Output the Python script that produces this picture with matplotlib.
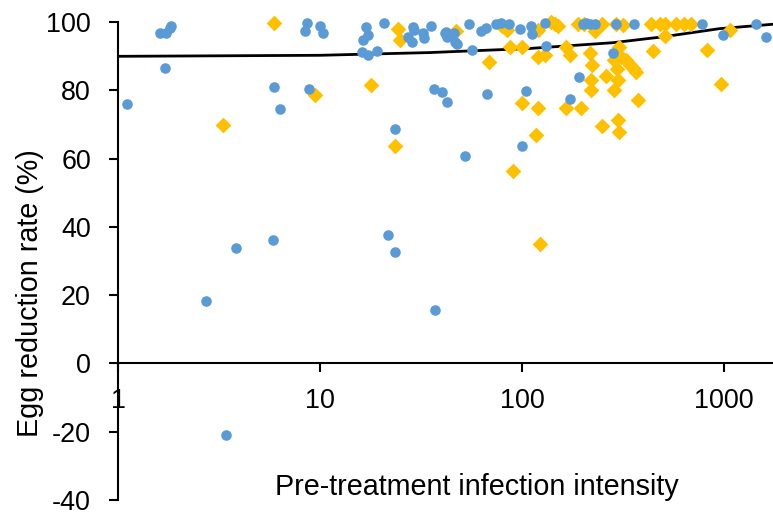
import matplotlib.pyplot as plt
from matplotlib.ticker import FixedLocator, NullLocator

plt.rcParams['font.family'] = ['Liberation Sans', 'DejaVu Sans']
plt.rcParams['axes.unicode_minus'] = False

# blue circles
blue_x = [1.11, 1.61, 1.72, 1.81, 1.82, 1.71, 5.95, 6.37, 8.6, 8.44,
          10.0, 10.3, 8.8, 16.8, 17.2, 16.3, 16.1, 17.2, 19.2, 20.8,
          23.6, 29.0, 29.2, 27.4, 28.5, 32.3, 32.9, 35.4, 36.5, 40.0,
          2.73, 3.83, 5.88, 21.6, 23.6, 37.2, 3.44, 41.7, 42.5, 42.1,
          46.0, 46.6, 47.8, 54.6, 56.3, 63.0, 66.7, 74.8, 78.3, 86.0,
          97.8, 110.5, 111.7, 130, 131.6, 201, 208.5, 216.6, 231, 292,
          358, 281, 192, 173, 42.7, 67.2, 104.5, 100.4, 52.3, 780,
          986, 1440, 1610]
blue_y = [76.1, 96.7, 96.7, 98.2, 98.9, 86.5, 80.9, 74.6, 99.8, 97.4,
          98.8, 96.9, 80.3, 98.5, 96.3, 94.7, 91.3, 90.4, 91.7, 99.9,
          68.7, 98.6, 97.7, 95.7, 94.2, 96.7, 95.5, 98.8, 80.3, 79.6,
          18.2, 33.9, 36.1, 37.7, 32.8, 15.7, -21.0, 96.7, 95.7, 97.2,
          96.7, 94.2, 93.5, 99.4, 91.8, 97.5, 98.4, 99.6, 99.8, 99.4,
          97.9, 99.0, 96.4, 99.8, 93.0, 99.6, 99.8, 99.6, 99.6, 99.4,
          99.6, 90.9, 84.0, 77.4, 76.5, 78.9, 79.9, 63.8, 60.9, 99.4,
          96.2, 99.4, 95.8]

# orange diamonds
orange_x = [5.92, 3.31, 9.5, 17.9, 24.2, 24.9, 23.6, 47.2, 68.6, 80.0,
            84.4, 87.0, 100.6, 100.0, 120, 116.8, 90.4, 120.4, 120.4, 130,
            140, 145.6, 151, 166, 172, 165, 195, 190, 204, 230,
            250, 217, 222, 219, 220, 248, 260, 292, 317, 303,
            287, 299, 297, 299, 301, 284, 311, 329, 342, 355,
            369, 376, 435, 483, 511, 580, 637, 688, 511, 447,
            820, 1070, 968, 123]
orange_y = [99.9, 69.9, 78.8, 81.5, 98.0, 94.7, 63.7, 97.5, 88.4, 98.8,
            97.8, 92.8, 92.8, 76.2, 75.0, 67.0, 56.5, 97.8, 89.9, 90.4,
            100.0, 99.4, 98.8, 92.8, 90.4, 74.8, 75.0, 99.6, 99.4, 97.5,
            99.4, 90.9, 87.4, 83.0, 80.1, 69.7, 84.2, 99.6, 99.1, 92.8,
            80.1, 83.2, 86.2, 71.3, 67.9, 88.9, 89.9, 88.9, 87.4, 86.5,
            85.5, 77.2, 99.6, 99.6, 99.4, 99.6, 99.6, 99.4, 95.9, 91.6,
            91.8, 97.8, 81.9, 35.1]

# fitted line
line_x = [1, 10, 35, 109, 283, 497, 950, 1750]
line_y = [90.0, 90.3, 91.1, 92.3, 94.0, 95.7, 98.1, 99.4]

fig = plt.figure(figsize=(7.73, 5.16), dpi=100)
ax = fig.add_axes([0.1527, 0.031, 0.8473, 0.926])

ax.plot(line_x, line_y, color='black', lw=2.0, zorder=2)
ax.scatter(orange_x, orange_y, marker='D', s=64, color='#FFC000',
           linewidths=0, zorder=3, clip_on=False)
ax.scatter(blue_x, blue_y, marker='o', s=58, color='#5B9BD5',
           linewidths=0, zorder=4, clip_on=False)

ax.set_xscale('log')
ax.set_xlim(1, 1750)
ax.set_ylim(-40, 100)
ax.xaxis.set_major_locator(FixedLocator([1, 10, 100, 1000]))
ax.xaxis.set_minor_locator(NullLocator())
ax.set_xticklabels(['1', '10', '100', '1000'])
ax.set_yticks(range(-40, 101, 20))

for s in ['top', 'right']:
    ax.spines[s].set_visible(False)
ax.spines['bottom'].set_position(('data', 0))
ax.spines['bottom'].set_linewidth(1.5)
ax.spines['left'].set_linewidth(1.5)

ax.tick_params(axis='both', labelsize=19.4, width=1.5, length=6.5, direction='out')
ax.tick_params(axis='x', pad=11)
ax.tick_params(axis='y', pad=13)

ax.text(0.548, 0.011, 'Pre-treatment infection intensity', transform=ax.transAxes,
        ha='center', va='baseline', fontsize=20.7)
fig.text(0.039, 0.432, 'Egg reduction rate (%)', rotation=90,
         ha='center', va='center', fontsize=20.7)

fig.savefig('out.png', dpi=100)
